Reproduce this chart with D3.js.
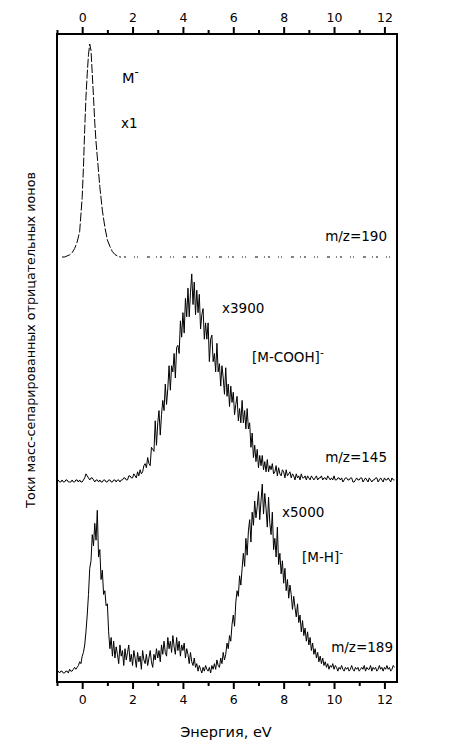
<!DOCTYPE html>
<html>
<head>
<meta charset="utf-8">
<script src="https://cdn.jsdelivr.net/npm/d3@7"></script>
<style>
  html, body { margin: 0; padding: 0; background: #fff; }
  svg { display: block; }
  text { font-family: "DejaVu Sans", Arial, sans-serif; fill: #000; }
</style>
</head>
<body>
<svg id="chart" width="453" height="745"></svg>
<script>
// ---------------- DATA ----------------
const xTickValues = [0, 2, 4, 6, 8, 10, 12];
const xMinorTicks = [-1, 1, 3, 5, 7, 9, 11];

// M- (m/z=190), x1
const energiesM = [-0.8,-0.7,-0.6,-0.5,-0.4,-0.3,-0.2,-0.1,0,0.05,0.1,0.15,0.2,0.25,0.3,0.35,0.4,0.45,0.5,0.55,0.6,0.65,0.7,0.8,0.9,1.0,1.1,1.2,1.3,1.4,1.5];
const valuesM   = [0,0,0.005,0.01,0.02,0.04,0.07,0.12,0.28,0.42,0.6,0.75,0.86,0.95,1.0,0.97,0.86,0.75,0.63,0.54,0.47,0.40,0.33,0.22,0.14,0.08,0.05,0.025,0.012,0.005,0];
const energiesMTail = [1.5, 2, 3, 4, 5, 6, 7, 8, 9, 10, 11, 12, 12.4];
const valuesMTail   = [0, 0, 0, 0, 0, 0, 0, 0, 0, 0, 0, 0, 0];

// common energy grid (eV) for the two noisy spectra
const energies = [
  -1.0,-0.95,-0.9,-0.85,-0.8,-0.75,-0.7,-0.65,-0.6,-0.55,-0.5,-0.45,-0.4,-0.35,-0.3,-0.25,-0.2,-0.15,-0.1,-0.05,
  0.0,0.05,0.1,0.15,0.2,0.25,0.3,0.35,0.4,0.45,0.5,0.55,0.6,0.65,0.7,0.75,0.8,0.85,0.9,0.95,
  1.0,1.05,1.1,1.15,1.2,1.25,1.3,1.35,1.4,1.45,1.5,1.55,1.6,1.65,1.7,1.75,1.8,1.85,1.9,1.95,
  2.0,2.05,2.1,2.15,2.2,2.25,2.3,2.35,2.4,2.45,2.5,2.55,2.6,2.65,2.7,2.75,2.8,2.85,2.9,2.95,
  3.0,3.05,3.1,3.15,3.2,3.25,3.3,3.35,3.4,3.45,3.5,3.55,3.6,3.65,3.7,3.75,3.8,3.85,3.9,3.95,
  4.0,4.05,4.1,4.15,4.2,4.25,4.3,4.35,4.4,4.45,4.5,4.55,4.6,4.65,4.7,4.75,4.8,4.85,4.9,4.95,
  5.0,5.05,5.1,5.15,5.2,5.25,5.3,5.35,5.4,5.45,5.5,5.55,5.6,5.65,5.7,5.75,5.8,5.85,5.9,5.95,
  6.0,6.05,6.1,6.15,6.2,6.25,6.3,6.35,6.4,6.45,6.5,6.55,6.6,6.65,6.7,6.75,6.8,6.85,6.9,6.95,
  7.0,7.05,7.1,7.15,7.2,7.25,7.3,7.35,7.4,7.45,7.5,7.55,7.6,7.65,7.7,7.75,7.8,7.85,7.9,7.95,
  8.0,8.05,8.1,8.15,8.2,8.25,8.3,8.35,8.4,8.45,8.5,8.55,8.6,8.65,8.7,8.75,8.8,8.85,8.9,8.95,
  9.0,9.05,9.1,9.15,9.2,9.25,9.3,9.35,9.4,9.45,9.5,9.55,9.6,9.65,9.7,9.75,9.8,9.85,9.9,9.95,
  10.0,10.05,10.1,10.15,10.2,10.25,10.3,10.35,10.4,10.45,10.5,10.55,10.6,10.65,10.7,10.75,10.8,10.85,10.9,10.95,
  11.0,11.05,11.1,11.15,11.2,11.25,11.3,11.35,11.4,11.45,11.5,11.55,11.6,11.65,11.7,11.75,11.8,11.85,11.9,11.95,
  12.0,12.05,12.1,12.15,12.2,12.25,12.3,12.35,12.4];

// [M-COOH]- (m/z=145), x3900
const valuesCOOH = [
  0.00,0.01,0.00,0.00,0.01,0.00,0.00,0.01,0.01,0.00,0.00,0.00,0.01,0.00,0.00,0.01,0.01,0.00,0.01,0.00,
  0.00,0.01,0.02,0.04,0.03,0.02,0.01,0.02,0.02,0.01,0.00,0.01,0.01,0.00,0.01,0.00,0.00,0.01,0.01,0.00,
  0.00,0.01,0.01,0.00,0.00,0.01,0.01,0.00,0.01,0.01,0.00,0.01,0.01,0.02,0.02,0.01,0.01,0.03,0.03,0.02,
  0.02,0.04,0.03,0.02,0.05,0.03,0.06,0.04,0.05,0.08,0.09,0.07,0.12,0.09,0.08,0.17,0.16,0.15,0.30,0.18,
  0.29,0.35,0.23,0.33,0.40,0.35,0.48,0.38,0.46,0.57,0.45,0.57,0.54,0.63,0.51,0.66,0.67,0.63,0.79,0.71,
  0.83,0.73,0.90,0.81,0.95,0.81,0.93,1.02,0.87,0.98,0.82,0.94,0.83,0.92,0.75,0.82,0.85,0.70,0.78,0.70,
  0.78,0.59,0.70,0.72,0.59,0.63,0.54,0.68,0.54,0.58,0.47,0.57,0.51,0.43,0.56,0.42,0.48,0.37,0.47,0.39,
  0.44,0.33,0.38,0.42,0.30,0.36,0.29,0.40,0.29,0.35,0.26,0.36,0.26,0.29,0.17,0.24,0.12,0.18,0.10,0.16,
  0.07,0.13,0.08,0.13,0.06,0.10,0.05,0.11,0.05,0.08,0.06,0.09,0.04,0.05,0.08,0.03,0.07,0.04,0.03,0.06,
  0.05,0.02,0.06,0.03,0.04,0.05,0.02,0.04,0.03,0.01,0.04,0.02,0.03,0.01,0.04,0.02,0.02,0.03,0.01,0.03,
  0.02,0.01,0.03,0.02,0.01,0.02,0.03,0.01,0.02,0.02,0.03,0.01,0.02,0.02,0.01,0.03,0.02,0.01,0.02,0.01,
  0.03,0.01,0.01,0.02,0.02,0.01,0.02,0.00,0.01,0.02,0.02,0.01,0.01,0.02,0.02,0.00,0.00,0.01,0.02,0.01,
  0.01,0.02,0.02,0.00,0.01,0.02,0.01,0.00,0.02,0.01,0.00,0.01,0.01,0.02,0.02,0.00,0.01,0.02,0.01,0.00,
  0.02,0.01,0.01,0.02,0.01,0.00,0.02,0.01,0.01];

// [M-H]- (m/z=189), x5000
const valuesMH = [
  0.00,0.01,0.00,0.01,0.01,0.00,0.00,0.01,0.01,0.00,0.02,0.01,0.01,0.02,0.03,0.02,0.03,0.04,0.06,0.05,
  0.09,0.11,0.15,0.22,0.31,0.42,0.56,0.60,0.74,0.68,0.80,0.71,0.87,0.62,0.66,0.50,0.55,0.42,0.44,0.36,
  0.37,0.22,0.13,0.19,0.09,0.17,0.08,0.14,0.10,0.05,0.15,0.09,0.12,0.04,0.13,0.07,0.11,0.15,0.06,0.10,
  0.04,0.12,0.08,0.03,0.11,0.06,0.09,0.02,0.12,0.07,0.05,0.10,0.04,0.08,0.12,0.06,0.03,0.10,0.07,0.13,
  0.08,0.12,0.06,0.15,0.10,0.17,0.11,0.09,0.19,0.13,0.17,0.11,0.20,0.14,0.10,0.19,0.12,0.17,0.09,0.15,
  0.12,0.16,0.08,0.13,0.10,0.05,0.11,0.06,0.04,0.08,0.03,0.05,0.01,0.04,0.02,0.00,0.03,0.01,0.04,0.02,
  0.01,0.03,0.00,0.04,0.02,0.05,0.02,0.07,0.04,0.03,0.08,0.05,0.11,0.07,0.10,0.16,0.13,0.20,0.17,0.26,
  0.31,0.25,0.38,0.44,0.41,0.52,0.47,0.56,0.64,0.57,0.72,0.63,0.76,0.82,0.70,0.86,0.79,0.92,0.83,0.89,
  0.97,0.82,0.92,1.01,0.85,0.96,0.88,0.78,0.94,0.80,0.74,0.86,0.66,0.72,0.62,0.78,0.58,0.64,0.53,0.60,
  0.48,0.56,0.44,0.50,0.40,0.47,0.42,0.34,0.41,0.35,0.30,0.37,0.27,0.31,0.22,0.28,0.20,0.24,0.17,0.22,
  0.15,0.19,0.12,0.16,0.10,0.13,0.08,0.11,0.06,0.09,0.05,0.08,0.04,0.06,0.03,0.05,0.02,0.04,0.03,0.05,
  0.02,0.04,0.03,0.01,0.03,0.02,0.04,0.02,0.01,0.03,0.02,0.03,0.01,0.02,0.04,0.02,0.01,0.03,0.02,0.03,
  0.01,0.02,0.03,0.02,0.04,0.01,0.03,0.02,0.02,0.04,0.01,0.03,0.02,0.03,0.01,0.02,0.04,0.02,0.03,0.01,
  0.03,0.02,0.04,0.02,0.03,0.01,0.02,0.04,0.03];

// ---------------- LAYOUT ----------------
const svg = d3.select("#chart");
const plotLeft = 57, plotRight = 397, plotTop = 34, plotBottom = 682;

const x = d3.scaleLinear().domain([-1, 12.5]).range([plotLeft, plotRight]);

// each trace has its own vertical scale (stacked, offset spectra)
const yM    = d3.scaleLinear().domain([0, 1]).range([257, 44]);
const yCOOH = d3.scaleLinear().domain([0, 1]).range([482, 278]);
const yMH   = d3.scaleLinear().domain([0, 1]).range([673, 486]);

// frame
svg.append("rect").attr("x", plotLeft).attr("y", plotTop)
  .attr("width", plotRight - plotLeft).attr("height", plotBottom - plotTop)
  .attr("fill", "none").attr("stroke", "#000").attr("stroke-width", 2);

// axes
const topAxis = d3.axisTop(x).tickValues(xTickValues).tickSize(7).tickSizeOuter(0).tickFormat(d3.format("d"));
const botAxis = d3.axisBottom(x).tickValues(xTickValues).tickSize(7).tickSizeOuter(0).tickFormat(d3.format("d"));
const topMinor = d3.axisTop(x).tickValues(xMinorTicks).tickSize(4).tickSizeOuter(0).tickFormat("");
const botMinor = d3.axisBottom(x).tickValues(xMinorTicks).tickSize(4).tickSizeOuter(0).tickFormat("");

function styleAxis(g) {
  g.select(".domain").remove();
  g.selectAll(".tick line").attr("stroke", "#000").attr("stroke-width", 2);
  g.selectAll(".tick text").attr("font-family", "DejaVu Sans, Arial, sans-serif")
    .attr("font-size", 12.5).attr("fill", "#000");
}
svg.append("g").attr("transform", `translate(0,${plotTop})`).call(topAxis).call(styleAxis)
  .selectAll(".tick text").attr("dy", "-0.2em");
svg.append("g").attr("transform", `translate(0,${plotBottom})`).call(botAxis).call(styleAxis)
  .selectAll(".tick text").attr("dy", "0.95em");
svg.append("g").attr("transform", `translate(0,${plotTop})`).call(topMinor).call(styleAxis);
svg.append("g").attr("transform", `translate(0,${plotBottom})`).call(botMinor).call(styleAxis);

// axis titles
svg.append("text").attr("x", (plotLeft + plotRight) / 2 - 1).attr("y", 737)
  .attr("text-anchor", "middle").attr("font-size", 14.5).text("Энергия, eV");
svg.append("text").attr("transform", "translate(35,340) rotate(-90)")
  .attr("text-anchor", "middle").attr("font-size", 12.7)
  .text("Токи масс-сепарированных отрицательных ионов");

// traces
const lineM = d3.line().x((d, i) => x(energiesM[i])).y(d => yM(d));
svg.append("path").datum(valuesM).attr("d", lineM)
  .attr("fill", "none").attr("stroke", "#000").attr("stroke-width", 1)
  .attr("stroke-dasharray", "9,2");
const lineMT = d3.line().x((d, i) => x(energiesMTail[i])).y(d => yM(d));
svg.append("path").datum(valuesMTail).attr("d", lineMT)
  .attr("fill", "none").attr("stroke", "#000").attr("stroke-width", 1)
  .attr("stroke-dasharray", "1,3,2,8,1,2,1,9,3,6");

const lineC = d3.line().x((d, i) => x(energies[i])).y(d => yCOOH(d));
svg.append("path").datum(valuesCOOH).attr("d", lineC)
  .attr("fill", "none").attr("stroke", "#000").attr("stroke-width", 1);

const lineH = d3.line().x((d, i) => x(energies[i])).y(d => yMH(d));
svg.append("path").datum(valuesMH).attr("d", lineH)
  .attr("fill", "none").attr("stroke", "#000").attr("stroke-width", 1);

// labels
function label(txt, xp, yp, size, anchor, sup) {
  const t = svg.append("text").attr("x", xp).attr("y", yp)
    .attr("font-size", size).attr("text-anchor", anchor || "start");
  t.append("tspan").text(txt);
  if (sup) t.append("tspan").attr("dy", -size * 0.45).attr("font-size", size * 0.8).text(sup);
  return t;
}
label("M", 122, 83, 14.5, "start", "-");
label("x1", 121, 128, 13.5);
label("m/z=190", 387, 241, 13.5, "end");
label("x3900", 222, 313, 13.5);
label("[M-COOH]", 252, 362, 13.5, "start", "-");
label("m/z=145", 387, 462, 13.5, "end");
label("x5000", 282, 517, 13.5);
label("[M-H]", 302, 562, 13.5, "start", "-");
label("m/z=189", 393, 652, 13.5, "end");
</script>
</body>
</html>
